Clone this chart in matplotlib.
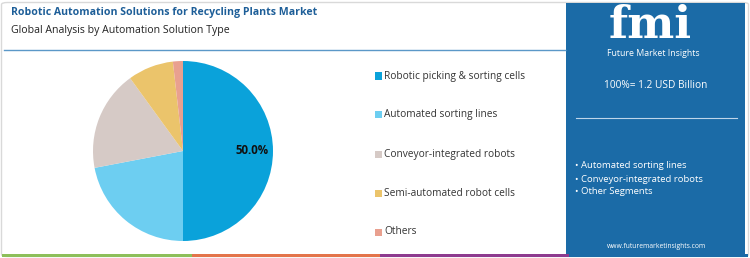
import matplotlib
matplotlib.use("Agg")
import matplotlib.pyplot as plt
from matplotlib.patches import FancyBboxPatch, Rectangle
from matplotlib.lines import Line2D

# ── data ──────────────────────────────────────────────────────────────────────
SEGMENTS = ["Robotic picking & sorting cells", "Automated sorting lines",
            "Conveyor-integrated robots", "Semi-automated robot cells", "Others"]
SHARES   = [50.0, 22.0, 18.0, 8.2, 1.8]
COLORS   = ["#0AA2DA", "#6DCEF1", "#D6CAC6", "#EBC46B", "#E9A08F"]

TITLE    = "Robotic Automation Solutions for Recycling Plants Market"
SUBTITLE = "Global Analysis by Automation Solution Type"
TOTAL    = "100%= 1.2 USD Billion"
BULLETS  = ["Automated sorting lines", "Conveyor-integrated robots", "Other Segments"]
SITE     = "www.futuremarketinsights.com"

W, H = 750, 258
PANEL = "#1B6BA7"
FONT = "Open Sans"

fig = plt.figure(figsize=(W / 100, H / 100), dpi=100)


def fx(x):
    return x / W


def fy(y):
    return 1 - y / H


# outer frame (behind everything)
fig.patches.append(FancyBboxPatch((fx(1.5), fy(256.5)), fx(747), 254 / H,
                                  boxstyle="round,pad=0,rounding_size=0.008",
                                  transform=fig.transFigure, fc="white",
                                  ec="#D9D9D9", lw=1.0, zorder=-5))

# header
fig.text(fx(11), fy(13), TITLE, fontsize=7.6, fontweight="bold", color="#1D5E98",
         family=FONT, va="center", ha="left")
fig.text(fx(11), fy(30), SUBTITLE, fontsize=7.6, color="#222222",
         family=FONT, va="center", ha="left")
fig.add_artist(Line2D([fx(4), fx(566)], [fy(49.5), fy(49.5)], transform=fig.transFigure,
                      color="#3E86BF", lw=1.0, alpha=0.85))

# bottom colour strip
for x0, x1, c in [(2, 192, "#8DBF5A"), (192, 380, "#E3744B"),
                  (380, 569, "#8E3B8F"), (569, 748, "#1B6BA7")]:
    fig.patches.append(Rectangle((fx(x0), fy(256.5)), fx(x1 - x0), 2.5 / H,
                                 transform=fig.transFigure, fc=c, ec="none", zorder=3))

# pie
cx, cy, r = 183, 151, 90
ax = fig.add_axes([fx(cx - r), fy(cy + r), fx(2 * r), 2 * r / H])
ax.pie(SHARES, colors=COLORS, startangle=90, counterclock=False, radius=1.0,
       autopct=lambda p: f"{p:.1f}%" if p > 40 else "", pctdistance=0.77,
       textprops=dict(fontsize=8.3, fontweight="bold", color="#111111", family=FONT),
       wedgeprops=dict(linewidth=0))
ax.set_xlim(-1, 1)
ax.set_ylim(-1, 1)
ax.set_aspect("equal")
ax.axis("off")

# legend
for i, (lab, col) in enumerate(zip(SEGMENTS, COLORS)):
    y = 76 + i * 39
    fig.patches.append(Rectangle((fx(374.5), fy(y + 3.5)), fx(7), 7 / H,
                                 transform=fig.transFigure, fc=col, ec="none"))
    fig.text(fx(384), fy(y), lab, fontsize=7.3, color="#333333", family=FONT,
             va="center", ha="left")

# right panel
fig.patches.append(Rectangle((fx(566), fy(255)), fx(179), 252 / H,
                             transform=fig.transFigure, fc=PANEL, ec="none", zorder=1))
fig.text(fx(650), fy(26), "fmi", fontsize=32, fontweight="bold", color="white",
         family="DejaVu Serif", va="center", ha="center", zorder=2)
fig.text(fx(653), fy(53), "Future Market Insights", fontsize=6.3, color="white",
         family=FONT, va="center", ha="center", zorder=2)
fig.text(fx(656), fy(86), TOTAL, fontsize=7.3, color="white",
         family=FONT, va="center", ha="center", zorder=2)
fig.add_artist(Line2D([fx(576), fx(737)], [fy(118), fy(118)], transform=fig.transFigure,
                      color="#BFD6EA", lw=0.8, zorder=2))
for i, b in enumerate(BULLETS):
    fig.text(fx(575), fy(166 + i * 13), "• " + b, fontsize=6.8, color="white",
             family=FONT, va="center", ha="left", zorder=2)
fig.text(fx(657), fy(247), SITE, fontsize=4.9, color="white",
         family=FONT, va="center", ha="center", zorder=2)

fig.savefig("out.png", dpi=100)
